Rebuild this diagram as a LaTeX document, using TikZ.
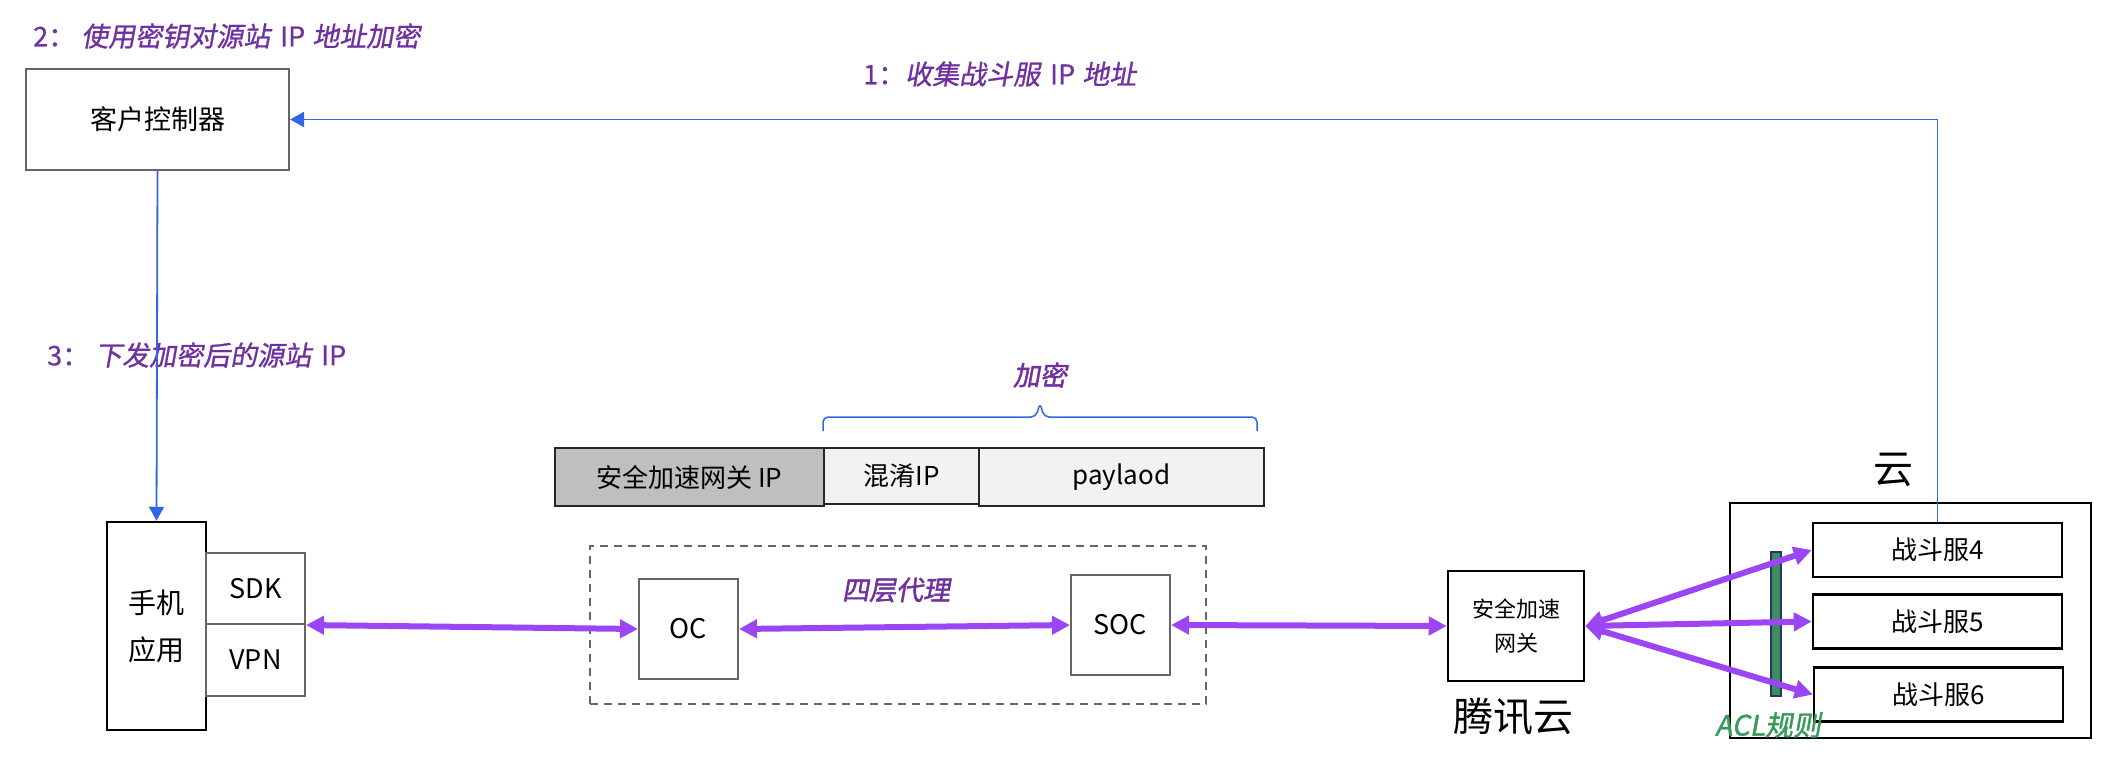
\documentclass[tikz,border=0pt]{standalone}
\usepackage{fontspec}
\setmainfont{Noto Sans CJK SC}
\newfontfamily\steplbl[FakeSlant=0.18,FakeBold=1]{Noto Sans CJK SC}
\newfontfamily\stepup[FakeBold=0.6]{Noto Sans CJK SC}
\newfontfamily\notelbl[FakeSlant=0.18,FakeBold=1.6]{Noto Sans CJK SC}
\usetikzlibrary{arrows.meta}

\definecolor{lblpurple}{HTML}{7030A0}
\definecolor{flowpurple}{HTML}{9B45F5}
\definecolor{ctrlblue}{HTML}{3264E6}
\definecolor{boxgray}{HTML}{666666}
\definecolor{hdrgray}{HTML}{BFBFBF}
\definecolor{hdrlight}{HTML}{F2F2F2}
\definecolor{aclgreen}{HTML}{3A9A5C}
\definecolor{aclfill}{HTML}{3C8C5C}
\definecolor{aclnavy}{HTML}{1F3864}

\newcommand{\up}[1]{\kern10pt{\stepup #1}\kern7pt}

\tikzset{
  graybox/.style={draw=boxgray, line width=2pt, inner sep=0pt, font=\fontsize{27}{32}\selectfont},
  blackbox/.style={draw=black, line width=2.5pt, inner sep=0pt, font=\fontsize{26}{32}\selectfont},
  hdrbox/.style={draw=black!85, line width=2.5pt, inner sep=0pt, minimum height=58pt, font=\fontsize{26}{32}\selectfont},
  srvbox/.style={blackbox, minimum width=249pt, minimum height=54pt},
  steptext/.style={text=lblpurple, font=\steplbl\fontsize{27}{32}\selectfont, anchor=west, inner sep=0pt},
  notetext/.style={text=lblpurple, font=\notelbl\fontsize{27}{32}\selectfont, inner sep=0pt},
  flow/.style={flowpurple, line width=6pt, >={Triangle[length=18pt,width=18pt]}, <->},
  ctrlline/.style={ctrlblue, line width=1.8pt, >={Triangle[length=14pt,width=15pt]}, ->},
}

\begin{document}
\begin{tikzpicture}[x=1pt, y=-1pt]
			%%%%% START %%%%%
			\useasboundingbox (0,0) rectangle (2120,766);
			
			\node[steptext] (step2) at (33,36) {{\stepup 2：\ }使用密钥对源站\up{IP}地址加密};
			\node[steptext] (step1) at (863,74) {{\stepup 1：}收集战斗服\up{IP}地址};
			\node[steptext] (step3) at (47,355) {{\stepup 3：\ }下发加密后的源站\up{IP}};
			
			\node[graybox, minimum width=263pt, minimum height=101pt] (ctrl) at (157.5,119.5) {客户控制器};
			
			\node[blackbox, minimum width=99pt, minimum height=208pt, align=center, font=\fontsize{28}{47}\selectfont] (phone) at (156.5,626) {手机\\应用};
			\node[graybox, minimum width=99pt, minimum height=71pt] (sdk) at (255.5,588.5) {SDK};
			\node[graybox, minimum width=99pt, minimum height=72pt] (vpn) at (255.5,660) {VPN};
			
			\node[hdrbox, fill=hdrgray, minimum width=269pt] (hdrgw) at (689.5,477) {安全加速网关 IP};
			\node[hdrbox, fill=hdrlight, minimum width=155pt, minimum height=56pt] (hdrmix) at (901.5,476) {混淆IP};
			\node[hdrbox, fill=hdrlight, minimum width=285pt] (hdrpay) at (1121.5,477) {paylaod};
			\draw[ctrlblue, line width=1.5pt, rounded corners=5pt] (823,431) -- (823,417) -- (1036,417) -- (1040,403) -- (1044,417) -- (1257,417) -- (1257,431);
			\node[notetext] (enc) at (1040,375) {加密};
			
			\node[draw=boxgray, line width=2pt, dash pattern=on 8pt off 6pt, minimum width=616pt, minimum height=158pt] (proxy) at (898,625) {};
			\node[notetext] (l4) at (896,590) {四层代理};
			\node[graybox, minimum width=99pt, minimum height=100pt] (oc) at (688.5,629) {OC};
			\node[graybox, minimum width=99pt, minimum height=100pt] (soc) at (1120.5,625) {SOC};
			
			\node[blackbox, minimum width=136pt, minimum height=110pt, align=center, font=\fontsize{22}{34}\selectfont] (gw) at (1516,626) {安全加速\\网关};
			\node[font=\fontsize{40}{48}\selectfont] (tcloud) at (1513,717) {腾讯云};
			
			\node[draw, line width=2.5pt, minimum width=361pt, minimum height=235pt] (cloud) at (1910.5,620.5) {};
			\node[font=\fontsize{40}{48}\selectfont] (cloudlbl) at (1893,470) {云};
			\draw[fill=aclfill, draw=aclnavy, line width=1.5pt] (1771,552) rectangle (1781,696);
			\node[srvbox] (srv4) at (1937.5,550) {战斗服4};
			\node[srvbox] (srv5) at (1937.5,621.5) {战斗服5};
			\node[srvbox] (srv6) at (1938.5,694.5) {战斗服6};
			\node[text=aclgreen, font=\notelbl\fontsize{28}{32}\selectfont] (acl) at (1768,725) {ACL规则};
			
			\draw[ctrlline] (srv4.north) |- (ctrl.east);
			\draw[ctrlline] (ctrl.south) -- (phone.north);
			
			\draw[flow] (sdk.south east) -- (oc.west);
			\draw[flow] (oc.east) -- (soc.west);
			\draw[flow] (soc.east) -- (gw.west);
			\foreach \s in {srv4,srv5,srv6}
				\draw[flow] (gw.east) -- (\s.west);
			
			%%%%% END %%%%%
\end{tikzpicture}
\end{document}
